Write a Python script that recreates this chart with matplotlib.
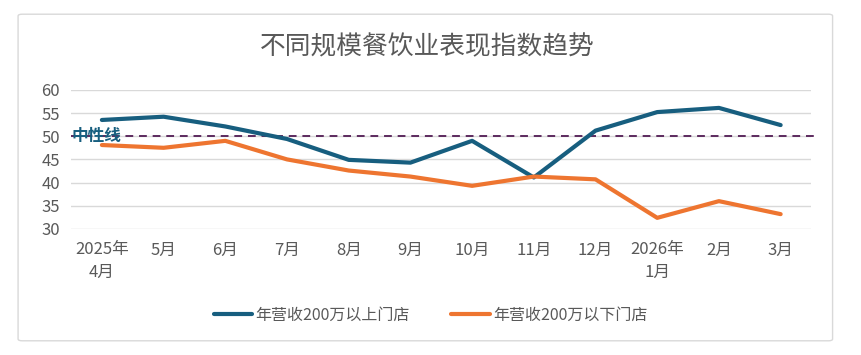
import matplotlib.pyplot as plt
from matplotlib.patches import FancyBboxPatch

plt.rcParams['font.family'] = ['Noto Sans CJK SC', 'DejaVu Sans']

# 数据
months = ["2025年\n4月", "5月", "6月", "7月", "8月", "9月", "10月", "11月", "12月", "2026年\n1月", "2月", "3月"]
above_200 = [53.5, 54.2, 52.1, 49.4, 44.9, 44.3, 49.0, 41.1, 51.2, 55.2, 56.1, 52.4]
below_200 = [48.1, 47.5, 49.0, 45.0, 42.6, 41.3, 39.3, 41.3, 40.7, 32.4, 36.0, 33.2]
neutral = 50
yticks = [30, 35, 40, 45, 50, 55, 60]

blue = "#175E7F"
orange = "#EE7530"
gray = "#595959"

fig = plt.figure(figsize=(8.61, 3.55), dpi=100)

# 外框
frame = FancyBboxPatch((0.021, 0.04), 0.946, 0.92, boxstyle="round,pad=0,rounding_size=0.005",
                       transform=fig.transFigure, fill=False, edgecolor="#D9D9D9", linewidth=1)
fig.patches.append(frame)

ax = fig.add_axes([0.0825, 0.355, 0.86, 0.392])
x = list(range(len(months)))

ax.plot(x, above_200, color=blue, linewidth=3, solid_capstyle="round", label="年营收200万以上门店", zorder=3)
ax.plot(x, below_200, color=orange, linewidth=3, solid_capstyle="round", label="年营收200万以下门店", zorder=3)
ax.axhline(neutral, xmin=0, xmax=1.005, color="#5C2A5E", linestyle=(0, (4, 3)), linewidth=1.4, zorder=2, clip_on=False)
ax.text(-0.5, neutral, "中性线", color=blue, fontsize=12, fontweight="bold", va="center", ha="left", zorder=4)

ax.set_xlim(-0.5, len(months) - 0.5)
ax.set_ylim(30, 60)
ax.set_yticks(yticks)
ax.set_xticks(x)
ax.set_xticklabels(months, linespacing=1.45)
ax.grid(axis="y", color="#D9D9D9", linewidth=1)
ax.set_axisbelow(True)
for s in ax.spines.values():
    s.set_visible(False)
ax.tick_params(length=0, colors=gray, labelsize=12)
ax.tick_params(axis="x", pad=9)
ax.tick_params(axis="y", pad=8)

fig.text(0.496, 0.868, "不同规模餐饮业表现指数趋势", ha="center", va="center", fontsize=18.5, color=gray)

fig.legend(loc="center", bbox_to_anchor=(0.5, 0.113), ncol=2, frameon=False, fontsize=11.5,
           labelcolor=gray, handlelength=2.4, handletextpad=0.2, columnspacing=2.6)

fig.savefig("out.png", dpi=100)
